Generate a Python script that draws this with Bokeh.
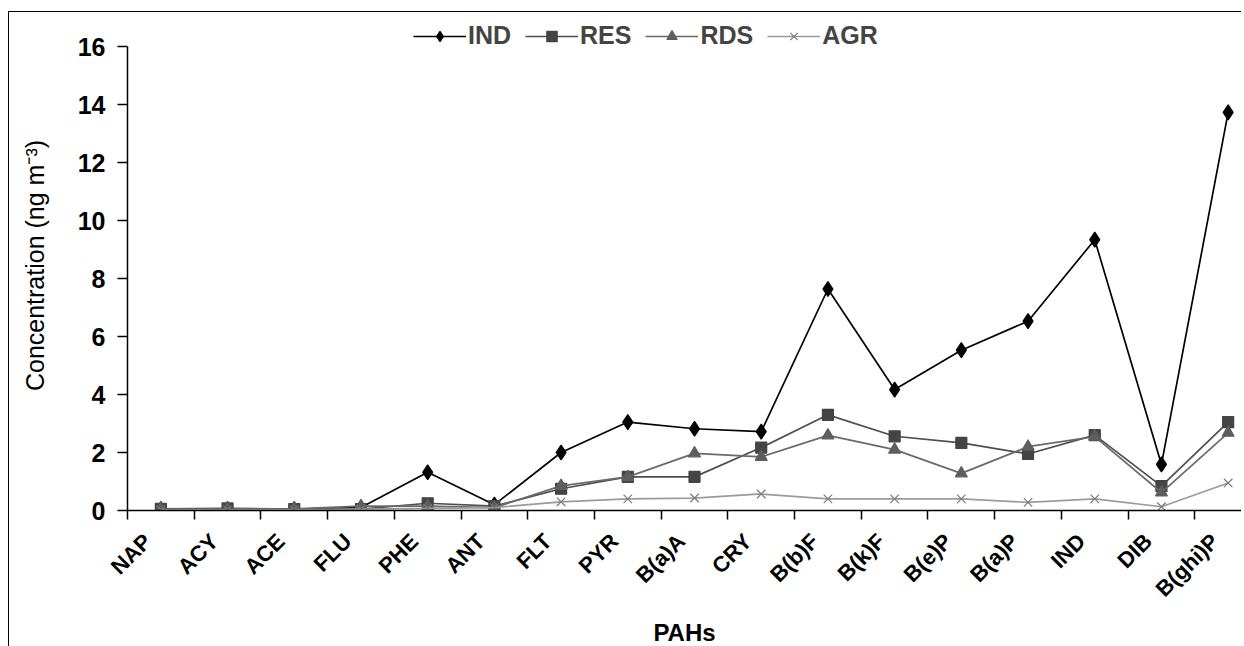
import math
from bokeh.plotting import figure
from bokeh.models import Range1d, FixedTicker, Legend, LegendItem
from bokeh.embed import file_html
from bokeh.resources import INLINE

pahs = ["NAP", "ACY", "ACE", "FLU", "PHE", "ANT", "FLT", "PYR", "B(a)A", "CRY",
        "B(b)F", "B(k)F", "B(e)P", "B(a)P", "IND", "DIB", "B(ghi)P"]
ind = [0.05, 0.05, 0.05, 0.10, 1.32, 0.20, 2.00, 3.05, 2.82, 2.72, 7.64, 4.17, 5.53, 6.53, 9.34, 1.59, 13.73]
res = [0.06, 0.07, 0.05, 0.05, 0.25, 0.15, 0.75, 1.16, 1.16, 2.17, 3.30, 2.56, 2.33, 1.95, 2.60, 0.84, 3.05]
rds = [0.05, 0.05, 0.06, 0.15, 0.15, 0.10, 0.85, 1.16, 1.97, 1.85, 2.59, 2.10, 1.28, 2.20, 2.55, 0.62, 2.68]
agr = [0.02, 0.02, 0.02, 0.05, 0.07, 0.10, 0.30, 0.40, 0.43, 0.57, 0.40, 0.40, 0.40, 0.28, 0.40, 0.13, 0.95]
y_ticks = [0, 2, 4, 6, 8, 10, 12, 14, 16]

xs = [i + 0.5 for i in range(len(pahs))]
label_pos = [i + 0.3 for i in range(len(pahs))]
FONT = "Liberation Sans"

p = figure(frame_width=1114, frame_height=490,
           x_range=Range1d(0, 16.7), y_range=Range1d(0, 16.9),
           output_backend="svg", toolbar_location=None,
           min_border_left=118, min_border_right=0, min_border_top=8, min_border_bottom=132)
p.styles = {"border-top": "1.5px solid black", "border-left": "1.5px solid black",
            "margin-top": "11px", "margin-left": "8px"}
p.grid.visible = False
p.outline_line_color = None
p.background_fill_color = "white"
p.border_fill_color = "white"

series = [
    ("IND", ind, "#000000", "#000000", "diamond", 15),
    ("RES", res, "#4e4e4e", "#444444", "square", 11),
    ("RDS", rds, "#6a6a6a", "#5e5e5e", "triangle", 12),
    ("AGR", agr, "#9a9a9a", "#7a7a7a", "x", 12),
]
items = []
for name, vals, lc, mc, marker, size in series:
    l = p.line(xs, vals, line_color=lc, line_width=1.7)
    s = p.scatter(xs, vals, marker=marker, size=size, fill_color=mc, line_color=mc, line_width=1.2)
    items.append(LegendItem(label=name, renderers=[l, s]))

legend = Legend(items=items, orientation="horizontal", location=(286, 460),
                label_text_font=FONT, label_text_font_style="bold", label_text_font_size="25px",
                glyph_width=53, glyph_height=26, label_standoff=2, spacing=14,
                padding=0, margin=0, border_line_color=None, background_fill_alpha=0)
p.add_layout(legend, "center")

# x axis: labels under the categories, tick marks between categories
xa = p.xaxis[0]
xa.ticker = FixedTicker(ticks=label_pos, minor_ticks=list(range(len(pahs) + 1)))
xa.major_label_overrides = {x: lab for x, lab in zip(label_pos, pahs)}
xa.major_tick_out = 0
xa.major_tick_in = 0
xa.minor_tick_out = 9
xa.minor_tick_in = 0
xa.minor_tick_line_color = "black"
xa.minor_tick_line_width = 1.5
xa.axis_line_color = "black"
xa.axis_line_width = 1.5
xa.major_label_orientation = math.pi / 4
xa.major_label_text_font = FONT
xa.major_label_text_font_style = "bold"
xa.major_label_text_font_size = "22px"
xa.major_label_text_color = "black"
xa.major_label_standoff = 18
xa.axis_label = "PAHs"
xa.axis_label_text_font = FONT
xa.axis_label_text_font_style = "bold"
xa.axis_label_text_font_size = "24px"
xa.axis_label_text_color = "black"
xa.axis_label_standoff = 6

ya = p.yaxis[0]
ya.ticker = FixedTicker(ticks=y_ticks, minor_ticks=[])
ya.bounds = (0, 16)
ya.major_tick_out = 10
ya.major_tick_in = 0
ya.major_tick_line_width = 1.5
ya.axis_line_width = 1.5
ya.axis_line_color = "black"
ya.major_label_text_font = FONT
ya.major_label_text_font_style = "bold"
ya.major_label_text_font_size = "25px"
ya.major_label_text_color = "black"
ya.major_label_standoff = 12
ya.axis_label = "Concentration (ng m\u207b\u00b3)"
ya.axis_label_text_font = FONT
ya.axis_label_text_font_style = "normal"
ya.axis_label_text_font_size = "25px"
ya.axis_label_text_color = "black"
ya.axis_label_standoff = 26

open("out.html", "w").write(file_html(p, INLINE))
